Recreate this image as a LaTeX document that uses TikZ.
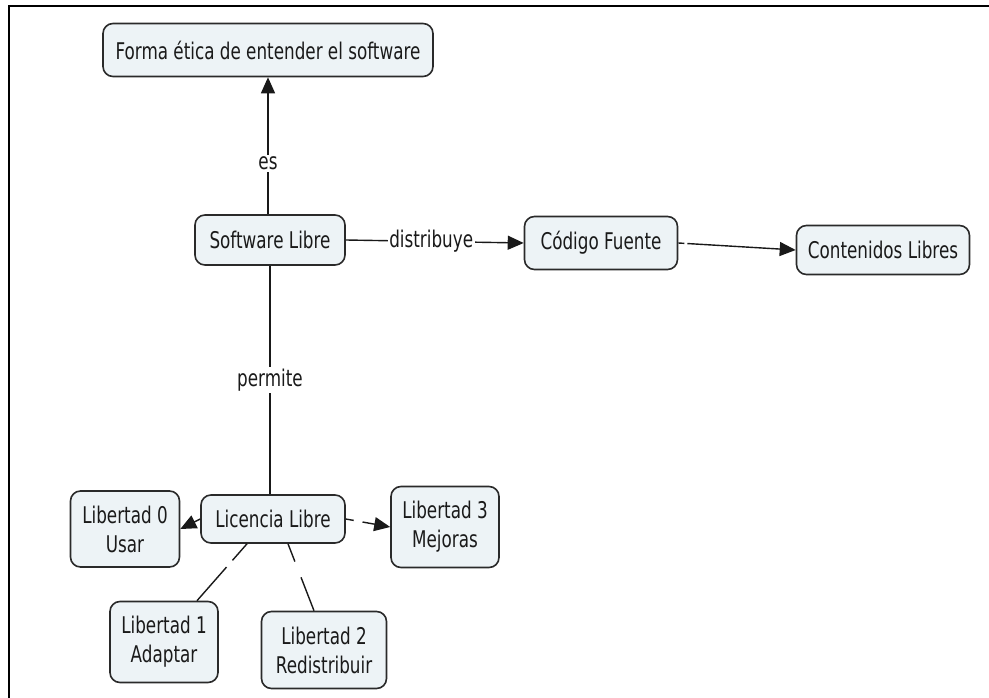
\documentclass[tikz,border=0pt]{standalone}
\usepackage{fontspec}
\setmainfont{DejaVu Sans}[FakeStretch=0.73]
\usetikzlibrary{arrows.meta}
\definecolor{boxfill}{HTML}{EDF3F6}
\definecolor{boxline}{HTML}{2A2A2A}
\definecolor{txt}{HTML}{1A1A1A}
\tikzset{
  cbox/.style={draw=boxline, fill=boxfill, line width=1.6pt, rounded corners=10pt,
    align=center, inner sep=0pt, text=txt, font=\fontsize{23}{29}\selectfont},
  conn/.style={line width=1.4pt, draw=black!90},
  arr/.style={conn, -{Triangle[length=16pt,width=14pt]}},
  lbl/.style={fill=white, inner sep=1.5pt, text=txt, font=\fontsize{23}{29}\selectfont}
}
\begin{document}
\begin{tikzpicture}[x=1pt,y=-1pt]
\useasboundingbox (0,0) rectangle (989,698);
\draw[line width=2.5pt] (9,698) -- (9,6) -- (989,6);

\node[cbox, minimum width=330pt, minimum height=53pt] (forma) at (268,50) {Forma ética de entender el software};
\node[cbox, minimum width=150pt, minimum height=50pt] (sl) at (270,240) {Software Libre};
\node[cbox, minimum width=153pt, minimum height=53pt] (cf) at (601,243) {Código Fuente};
\node[cbox, minimum width=173pt, minimum height=49pt] (cl) at (883,250) {Contenidos Libres};
\node[cbox, minimum width=144pt, minimum height=48pt] (lic) at (273,519) {Licencia Libre};
\node[cbox, minimum width=109pt, minimum height=76pt] (l0) at (125,529) {Libertad 0\\Usar};
\node[cbox, minimum width=108pt, minimum height=81pt] (l3) at (445,527) {Libertad 3\\Mejoras};
\node[cbox, minimum width=108pt, minimum height=81pt] (l1) at (164,642) {Libertad 1\\Adaptar};
\node[cbox, minimum width=125pt, minimum height=77pt] (l2) at (324,650) {Libertad 2\\Redistribuir};

\draw[arr] ([xshift=-2pt]sl.north) -- node[lbl, pos=0.37] {es} ([xshift=-2pt]sl.north |- forma.south);
\draw[arr] (sl.east) -- node[lbl, pos=0.48] {distribuye} (cf.west);
\draw[arr, dash pattern=on 6pt off 3pt on 300pt] (cf.east) -- (cl.west);
\draw[conn] (sl.south) -- node[lbl, pos=0.5] {permite} (sl.south |- lic.north);
\draw[arr] (lic.west) -- (l0.east);
\draw[arr, dash pattern=on 8pt off 9pt on 300pt] (lic.east) -- (l3.west);
\draw[conn, dash pattern=on 22pt off 9pt on 300pt] ([xshift=-26pt]lic.south) -- ([xshift=33pt]l1.north);
\draw[conn, dash pattern=on 19pt off 17pt on 300pt] ([xshift=15pt]lic.south) -- ([xshift=-10pt]l2.north);
\end{tikzpicture}
\end{document}
